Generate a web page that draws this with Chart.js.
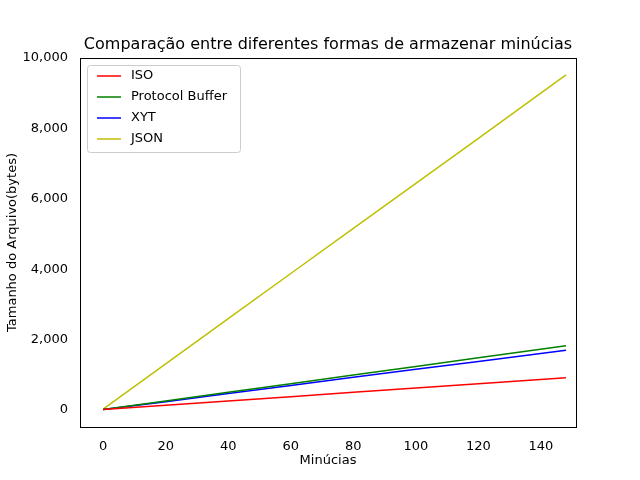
<!DOCTYPE html>
<html><head><meta charset="utf-8">
<script src="https://cdn.jsdelivr.net/npm/chart.js@4"></script>
<style>body{margin:0;background:#fff}#wrap{width:640px;height:480px}</style>
</head><body><div id="wrap"><canvas id="c" width="640" height="480"></canvas></div>
<script>
const minucias = [0, 20, 40, 60, 80, 100, 120, 148];
const iso = [15, 140, 260, 380, 510, 630, 750, 920];
const protobuf = [15, 260, 505, 750, 995, 1240, 1490, 1830];
const xyt = [15, 240, 470, 700, 930, 1160, 1380, 1700];
const json = [30, 1310, 2600, 3880, 5160, 6440, 7720, 9520];
const xTicks = [0, 20, 40, 60, 80, 100, 120, 140];
const yTicks = [0, 2000, 4000, 6000, 8000, 10000];

const FONT = 'DejaVu Sans';
function pts(arr) { return minucias.map((x, i) => ({ x: x, y: arr[i] })); }
function ds(label, arr, color) {
  return { label, data: pts(arr), borderColor: color, backgroundColor: color, borderWidth: 1.5, pointRadius: 0, tension: 0 };
}

const extras = {
  id: 'extras',
  afterDraw(chart) {
    const ctx = chart.ctx, a = chart.chartArea;
    ctx.save();
    ctx.strokeStyle = '#000'; ctx.lineWidth = 1;
    ctx.strokeRect(a.left + 0.5, a.top + 0.5, a.right - a.left, a.bottom - a.top);
    ctx.fillStyle = '#000';
    ctx.font = '16px ' + FONT; ctx.textAlign = 'center'; ctx.textBaseline = 'bottom';
    ctx.fillText('Comparação entre diferentes formas de armazenar minúcias', (a.left + a.right) / 2, a.top - 5);
    ctx.font = '13px ' + FONT; ctx.textBaseline = 'top';
    ctx.fillText('Minúcias', (a.left + a.right) / 2, 454);
    ctx.save(); ctx.translate(13, (a.top + a.bottom) / 2); ctx.rotate(-Math.PI / 2);
    ctx.textBaseline = 'middle'; ctx.fillText('Tamanho do Arquivo(bytes)', 0, 0); ctx.restore();
    // legend
    const lx = a.left + 7, ly = a.top + 7, w = 153, h = 87;
    ctx.fillStyle = 'rgba(255,255,255,0.8)'; ctx.strokeStyle = '#ccc';
    ctx.beginPath(); ctx.roundRect(lx + 0.5, ly + 0.5, w, h, 3); ctx.fill(); ctx.stroke();
    ctx.textAlign = 'left'; ctx.textBaseline = 'middle'; ctx.font = '13px ' + FONT;
    chart.data.datasets.forEach((d, i) => {
      const yy = ly + 11 + i * 21;
      ctx.strokeStyle = d.borderColor; ctx.lineWidth = 1.5;
      ctx.beginPath(); ctx.moveTo(lx + 10, yy); ctx.lineTo(lx + 34, yy); ctx.stroke();
      ctx.fillStyle = '#000'; ctx.fillText(d.label, lx + 44, yy);
    });
    ctx.restore();
  }
};

new Chart(document.getElementById('c'), {
  type: 'line',
  data: { datasets: [
    ds('ISO', iso, '#ff0000'),
    ds('Protocol Buffer', protobuf, '#008000'),
    ds('XYT', xyt, '#0000ff'),
    ds('JSON', json, '#bfbf00')
  ] },
  options: {
    responsive: false, animation: false,
    layout: { padding: { top: 58, right: 64, left: 0, bottom: 0 } },
    plugins: { legend: { display: false }, title: { display: false }, tooltip: { enabled: false } },
    scales: {
      x: {
        type: 'linear', min: -7.4, max: 151.2,
        afterBuildTicks: s => { s.ticks = xTicks.map(v => ({ value: v })); },
        afterFit: s => { s.height = 53; },
        grid: { display: false, drawTicks: true },
        border: { display: false },
        ticks: { color: '#000', font: { family: FONT, size: 13 }, padding: 4 }
      },
      y: {
        min: -480, max: 10000,
        afterBuildTicks: s => { s.ticks = yTicks.map(v => ({ value: v })); },
        afterFit: s => { s.width = 80; },
        grid: { display: false },
        border: { display: false },
        ticks: { color: '#000', font: { family: FONT, size: 13 }, padding: 4 }
      }
    }
  },
  plugins: [extras]
});
</script></body></html>
